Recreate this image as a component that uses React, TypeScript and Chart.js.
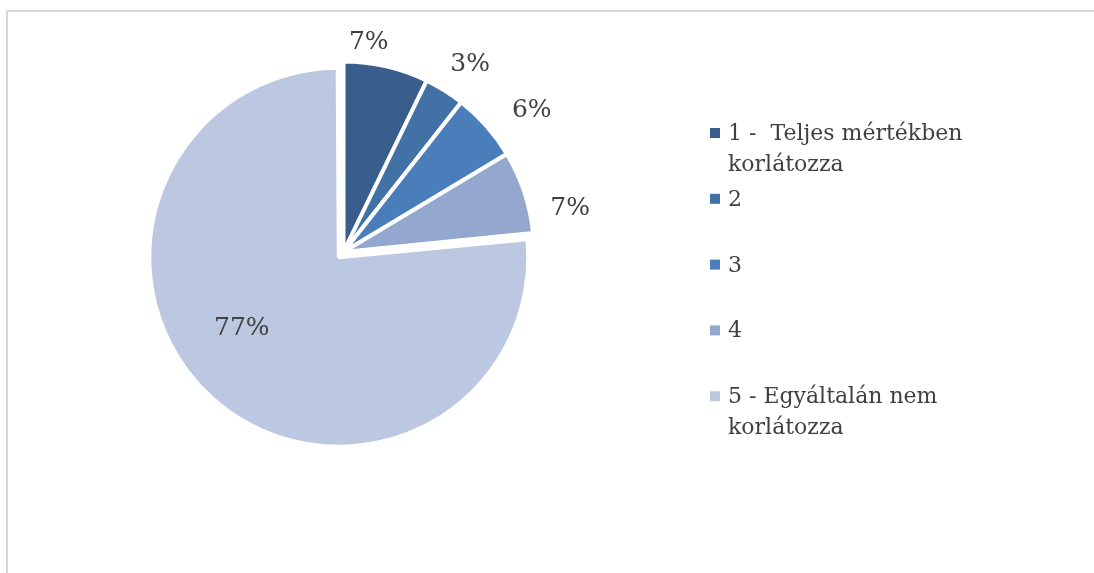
import React, { useEffect, useRef } from "react";
import { Chart, registerables } from "chart.js";

Chart.register(...registerables);

// ---- data ----
const categories = [
  "1 -  Teljes mértékben korlátozza",
  "2",
  "3",
  "4",
  "5 - Egyáltalán nem korlátozza",
];
const shares = [7.2, 3.4, 5.8, 7.0, 76.6];

// ---- styling ----
const sliceColors = ["#3A5E8C", "#4271A6", "#4A7EBB", "#94A8CF", "#BCC8E1"];
const sliceOffsets = [0, 0, 0, 0, 28];
const W = 1094;
const H = 573;
const PIE_CX = 343.5;
const PIE_CY = 252;
const PIE_RADIUS = 190.5;
const EXPLODED_RADIUS = 189.5;
const FONT_FAMILY = '"DejaVu Serif", "Liberation Serif", serif';
const TEXT_COLOR = "#404040";
const LABEL_FONT_SIZE = 25;
const LEGEND_FONT_SIZE = 22;
const labelNudges: [number, number][] = [
  [-23, -2.5],
  [12.6, -7.7],
  [27, -1.8],
  [22.5, 21.9],
  [-19.9, -16.4],
];
const legendLayout = { x: 710, firstBaseline: 140, step: 65.8, lineHeight: 30.5, box: 10, gap: 8, wrap: 250 };

function wrapText(ctx: CanvasRenderingContext2D, text: string, maxW: number): string[] {
  const tokens = text.split(/(\s+)/);
  const lines: string[] = [];
  let cur = "";
  for (const t of tokens) {
    if (t === "") continue;
    if (/^\s+$/.test(t)) {
      cur += t;
      continue;
    }
    const cand = cur + t;
    if (cur.trim() !== "" && ctx.measureText(cand.trimEnd()).width > maxW) {
      lines.push(cur.trimEnd());
      cur = t;
    } else {
      cur = cand;
    }
  }
  if (cur.trim() !== "") lines.push(cur.trimEnd());
  return lines;
}

// keep the exploded slice at its own radius (Chart.js grows exploded arcs by offset/4)
const explodedRadius = {
  id: "explodedRadius",
  beforeDatasetsDraw(chart: any) {
    const meta = chart.getDatasetMeta(0);
    meta.data.forEach((el: any, i: number) => {
      const off = sliceOffsets[i] || 0;
      if (off) el.outerRadius = EXPLODED_RADIUS - off / 4;
    });
  },
};

const pctLabels = {
  id: "pctLabels",
  afterDatasetsDraw(chart: any) {
    const ctx: CanvasRenderingContext2D = chart.ctx;
    const meta = chart.getDatasetMeta(0);
    const data = chart.data.datasets[0].data as number[];
    const total = data.reduce((a, b) => a + b, 0);
    ctx.save();
    ctx.font = `${LABEL_FONT_SIZE}px ${FONT_FAMILY}`;
    ctx.fillStyle = TEXT_COLOR;
    ctx.textAlign = "center";
    ctx.textBaseline = "alphabetic";
    meta.data.forEach((el: any, i: number) => {
      const { x, y, startAngle, endAngle, outerRadius } = el.getProps(
        ["x", "y", "startAngle", "endAngle", "outerRadius"],
        true
      );
      const mid = (startAngle + endAngle) / 2;
      const share = data[i] / total;
      const shift = (sliceOffsets[i] || 0) / 4;
      const dist = share > 0.5 ? shift + outerRadius * 0.63 : outerRadius + 24.5;
      const nudge = labelNudges[i] || [0, 0];
      const px = x + Math.cos(mid) * dist + nudge[0];
      const py = y + Math.sin(mid) * dist + nudge[1] + LABEL_FONT_SIZE * 0.36;
      ctx.fillText(`${Math.round(share * 100)}%`, px, py);
    });
    ctx.restore();
  },
};

const sideLegend = {
  id: "sideLegend",
  afterDraw(chart: any) {
    const ctx: CanvasRenderingContext2D = chart.ctx;
    const labels = chart.data.labels as string[];
    const colors = chart.data.datasets[0].backgroundColor as string[];
    ctx.save();
    ctx.font = `${LEGEND_FONT_SIZE}px ${FONT_FAMILY}`;
    ctx.textAlign = "left";
    ctx.textBaseline = "alphabetic";
    labels.forEach((lab, i) => {
      const base = legendLayout.firstBaseline + i * legendLayout.step;
      ctx.fillStyle = colors[i];
      ctx.fillRect(legendLayout.x, base - 12, legendLayout.box, legendLayout.box);
      ctx.fillStyle = TEXT_COLOR;
      wrapText(ctx, lab, legendLayout.wrap).forEach((line, j) => {
        ctx.fillText(line, legendLayout.x + legendLayout.box + legendLayout.gap, base + j * legendLayout.lineHeight);
      });
    });
    ctx.restore();
  },
};

export default function App() {
  const ref = useRef<HTMLCanvasElement | null>(null);

  useEffect(() => {
    if (!ref.current) return;
    const chart = new Chart(ref.current, {
      type: "pie",
      data: {
        labels: categories,
        datasets: [
          {
            data: shares,
            backgroundColor: sliceColors,
            borderColor: "#ffffff",
            borderWidth: 4,
            offset: sliceOffsets,
          } as any,
        ],
      },
      options: {
        responsive: false,
        maintainAspectRatio: false,
        animation: false,
        radius: PIE_RADIUS,
        events: [],
        layout: {
          padding: { left: 0, top: 0, right: W - 2 * PIE_CX, bottom: H - 2 * PIE_CY },
        },
        plugins: {
          legend: { display: false },
          tooltip: { enabled: false },
        },
      } as any,
      plugins: [explodedRadius, pctLabels, sideLegend],
    });
    return () => chart.destroy();
  }, []);

  return (
    <div
      style={{
        position: "fixed",
        left: 0,
        top: 0,
        width: W,
        height: H,
        overflow: "hidden",
        background: "#ffffff",
      }}
    >
      <div
        style={{
          position: "absolute",
          left: 6,
          top: 10,
          width: W + 40,
          height: H + 40,
          border: "2px solid #D9D9D9",
          boxSizing: "border-box",
        }}
      />
      <canvas
        ref={ref}
        width={W}
        height={H}
        style={{ position: "absolute", left: 0, top: 0, width: W, height: H }}
      />
    </div>
  );
}
